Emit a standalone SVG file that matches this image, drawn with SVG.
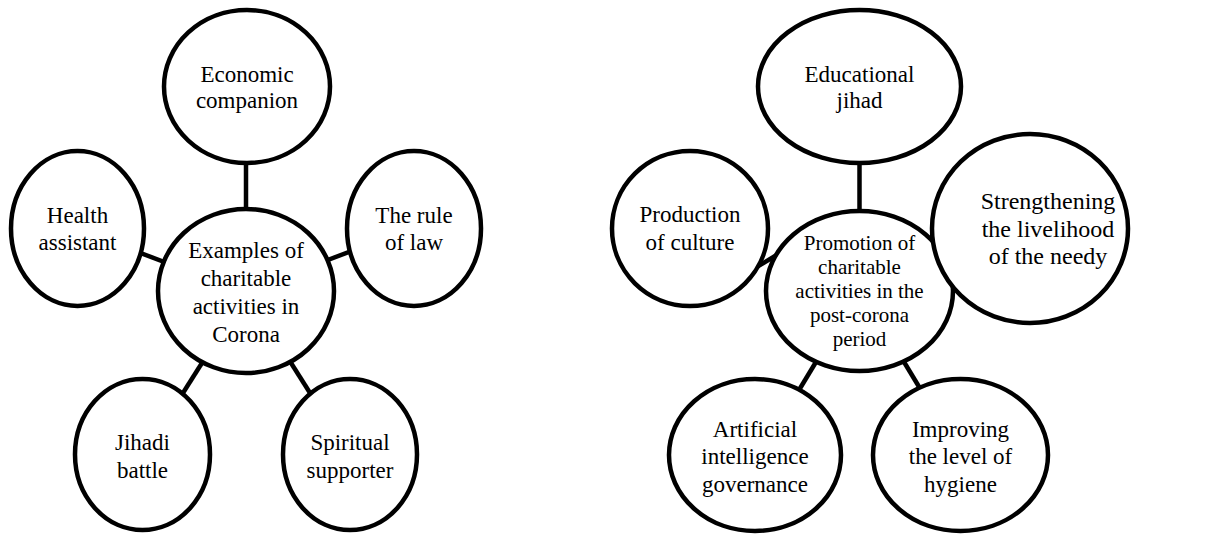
<svg xmlns="http://www.w3.org/2000/svg" width="1206" height="535" viewBox="0 0 1206 535" font-family="Liberation Serif, Times New Roman, DejaVu Serif, serif">
<style>
.n{fill:#fff;stroke:#000;stroke-width:4.5}
.c line{stroke:#000;stroke-width:4.5}
text{font-size:23px;fill:#000;text-anchor:middle}
.s{font-size:21px}
.l{font-size:24px}
</style>
<rect width="1206" height="535" fill="#fff"/>
<g id="connectors" class="c">
<line x1="246" y1="150" x2="246" y2="220"/>
<line x1="130" y1="249" x2="180" y2="268"/>
<line x1="312" y1="266" x2="362" y2="247"/>
<line x1="176" y1="404" x2="207" y2="355"/>
<line x1="286" y1="355" x2="317" y2="404"/>
<line x1="859.5" y1="150" x2="859.5" y2="222"/>
<line x1="755" y1="268" x2="785" y2="250"/>
<line x1="793" y1="400" x2="822" y2="352"/>
<line x1="898" y1="352" x2="927" y2="400"/>
</g>
<g id="economic"><ellipse class="n" cx="247" cy="86.5" rx="83" ry="76.5"/><text x="247" y="82">Economic</text><text x="247" y="108">companion</text></g>
<g id="health"><ellipse class="n" cx="77.5" cy="228.5" rx="66.5" ry="77.5"/><text x="77.5" y="223">Health</text><text x="77.5" y="250">assistant</text></g>
<g id="rule"><ellipse class="n" cx="414" cy="228.5" rx="67" ry="77.5"/><text x="414" y="223">The rule</text><text x="414" y="250">of law</text></g>
<g id="jihadi"><ellipse class="n" cx="142.5" cy="454.5" rx="67.5" ry="75.5"/><text x="142.5" y="450">Jihadi</text><text x="142.5" y="478">battle</text></g>
<g id="spiritual"><ellipse class="n" cx="350" cy="454.5" rx="67" ry="75.5"/><text x="350" y="450">Spiritual</text><text x="350" y="478">supporter</text></g>
<g id="center-left"><ellipse class="n" cx="246" cy="291" rx="88" ry="82"/><text x="246" y="258">Examples of</text><text x="246" y="286">charitable</text><text x="246" y="314">activities in</text><text x="246" y="342">Corona</text></g>
<g id="educational"><ellipse class="n" cx="859.5" cy="86.5" rx="101.5" ry="76.5"/><text x="859.5" y="82">Educational</text><text x="859.5" y="108">jihad</text></g>
<g id="production"><ellipse class="n" cx="690" cy="228.5" rx="78" ry="77.5"/><text x="690" y="222">Production</text><text x="690" y="250">of culture</text></g>
<g id="artificial"><ellipse class="n" cx="755" cy="455" rx="86" ry="76"/><text x="755" y="437">Artificial</text><text x="755" y="464">intelligence</text><text x="755" y="492">governance</text></g>
<g id="improving"><ellipse class="n" cx="960.5" cy="455" rx="87.5" ry="76"/><text x="960.5" y="437">Improving</text><text x="960.5" y="464">the level of</text><text x="960.5" y="492">hygiene</text></g>
<g id="center-right"><ellipse class="n" cx="859.5" cy="291" rx="93.5" ry="80"/><text class="s" x="859.5" y="250">Promotion of</text><text class="s" x="859.5" y="274">charitable</text><text class="s" x="859.5" y="298">activities in the</text><text class="s" x="859.5" y="322">post-corona</text><text class="s" x="859.5" y="346">period</text></g>
<g id="strengthening"><ellipse class="n" cx="1030" cy="228.5" rx="98" ry="94.5"/><text class="l" x="1048" y="209">Strengthening</text><text class="l" x="1048" y="237">the livelihood</text><text class="l" x="1048" y="264">of the needy</text></g>
</svg>
